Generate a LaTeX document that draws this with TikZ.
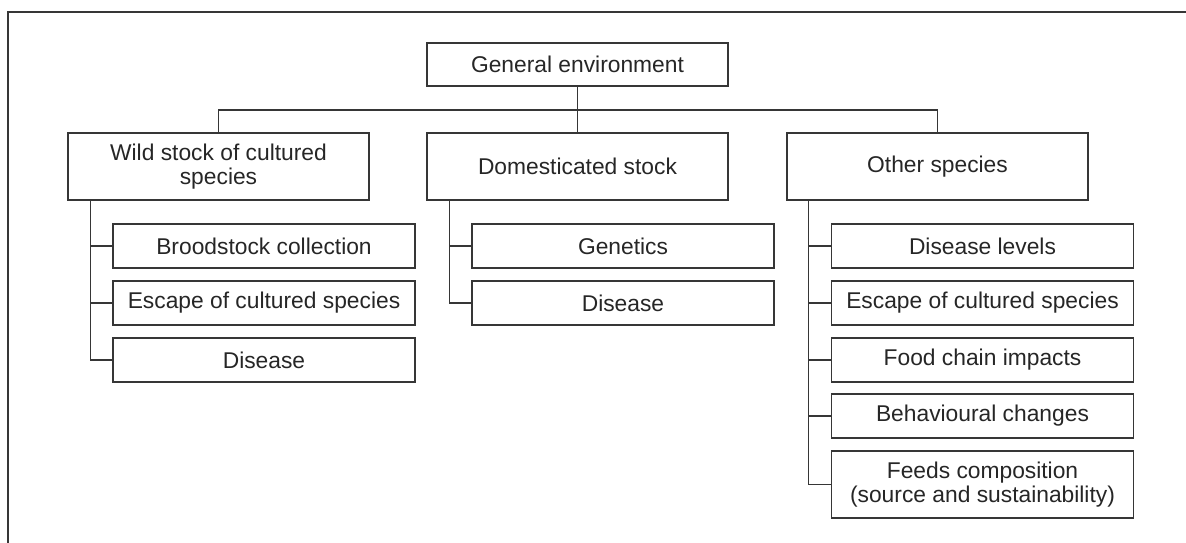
\documentclass[tikz,border=0pt]{standalone}
\usepackage{fontspec}
\setmainfont{Liberation Sans}
\definecolor{ink}{HTML}{262626}
\definecolor{rule}{HTML}{363636}
\begin{document}
\begin{tikzpicture}[x=1pt,y=-1pt,
  box/.style={draw=rule,line width=1.4pt,rectangle,inner sep=0pt,
    text=ink,align=center,font=\fontsize{22.8}{24.5}\selectfont},
  head/.style={box,minimum width=301pt,minimum height=43pt},
  cat/.style={box,minimum width=301pt,minimum height=67pt},
  item/.style={box,minimum width=302pt,minimum height=44pt},
  tall/.style={box,minimum width=302pt,minimum height=67pt},
  link/.style={draw=rule,line width=1.4pt}]
\useasboundingbox (0,0) rectangle (1186,543);
% outer frame (top and left edges)
\draw[rule,line width=2pt] (1186,12) -- (8,12) -- (8,543);

% root
\node[head] (ge) at (577.5,64.5) {General environment};

% categories
\node[cat] (wild)  at (218.5,166.5) {Wild stock of cultured\\species};
\node[cat] (dom)   at (577.5,166.5) {Domesticated stock};
\node[cat] (other) at (937.5,166.5) {Other species};

% items under wild stock
\node[item] (w1) at (264,246) {Broodstock collection};
\node[item] (w2) at (264,303) {Escape of cultured species};
\node[item] (w3) at (264,360) {Disease};

% items under domesticated stock
\node[item] (d1) at (623,246) {Genetics};
\node[item] (d2) at (623,303) {Disease};

% items under other species
\node[item] (o1) at (982.5,246) {Disease levels};
\node[item] (o2) at (982.5,303) {Escape of cultured species};
\node[item] (o3) at (982.5,360) {Food chain impacts};
\node[item] (o4) at (982.5,416) {Behavioural changes};
\node[tall] (o5) at (982.5,484.5) {Feeds composition\\(source and sustainability)};

% root to categories
\coordinate (hub) at (577.5,110);
\draw[link] (ge.south) -- (dom.north);
\draw[link] (wild.north) |- (hub) -| (other.north);

% category to item brackets
\foreach \c in {w1,w2,w3}
  \draw[link] ([xshift=23pt]wild.south west) |- (\c.west);
\foreach \c in {d1,d2}
  \draw[link] ([xshift=23pt]dom.south west) |- (\c.west);
\foreach \c in {o1,o2,o3,o4,o5}
  \draw[link] ([xshift=22pt]other.south west) |- (\c.west);
\end{tikzpicture}
\end{document}
